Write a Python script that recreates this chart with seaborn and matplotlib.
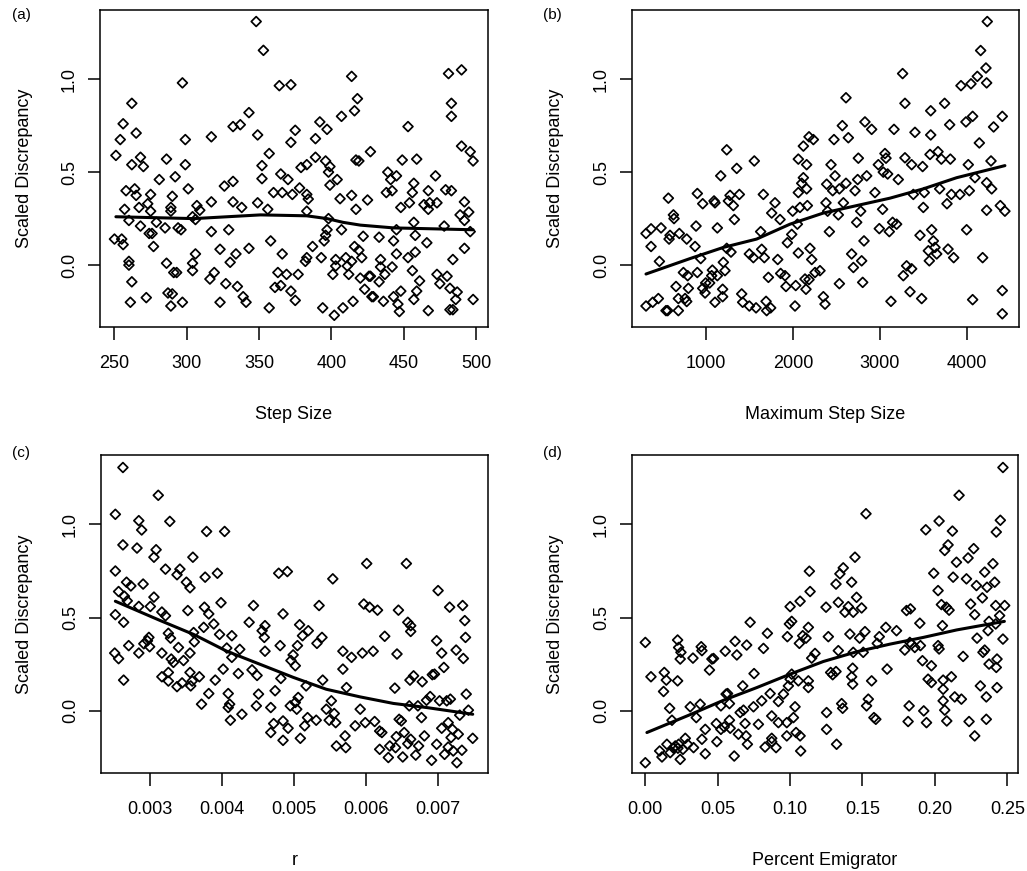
import matplotlib
matplotlib.use("Agg")
import matplotlib.pyplot as plt
import seaborn as sns
import pandas as pd

# ---------------- data ----------------
step_size = [
    251, 250, 255, 256, 254, 256, 257, 258, 260, 262,
    260, 260, 262, 261, 262, 264, 265, 265, 267, 268,
    268, 270, 272, 273, 274, 275, 275, 277, 276, 279,
    281, 286, 285, 286, 287, 290, 289, 289, 290, 289,
    291, 293, 292, 294, 296, 297, 299, 299, 297, 301,
    304, 306, 304, 304, 306, 307, 309, 317, 317, 317,
    316, 319, 323, 323, 326, 327, 329, 330, 332, 332,
    332, 334, 337, 338, 335, 339, 341, 343, 343, 348,
    349, 349, 352, 352, 353, 357, 356, 357, 358, 360,
    361, 363, 364, 365, 365, 366, 366, 369, 370, 372,
    372, 373, 375, 372, 375, 377, 378, 379, 383, 383,
    384, 383, 383, 382, 387, 389, 389, 392, 393, 394,
    397, 396, 399, 399, 398, 398, 397, 396, 395, 401,
    403, 403, 402, 404, 406, 407, 407, 408, 410, 411,
    412, 414, 414, 414, 415, 416, 418, 417, 417, 419,
    416, 419, 421, 420, 422, 423, 425, 426, 427, 428,
    429, 427, 433, 433, 434, 434, 436, 437, 438, 439,
    441, 442, 442, 443, 443, 445, 445, 446, 447, 448,
    445, 449, 448, 453, 454, 453, 456, 456, 457, 457,
    458, 458, 457, 459, 459, 461, 464, 466, 467, 467,
    468, 467, 472, 473, 473, 475, 478, 479, 480, 482,
    481, 483, 483, 483, 484, 482, 484, 486, 487, 490,
    490, 489, 492, 492, 495, 492, 496, 498, 496, 498,
]
disc_a = [
    0.59, 0.14, 0.14, 0.11, 0.675, 0.76, 0.30, 0.40, 0.24, 0.87,
    0.02, 0.00, -0.09, -0.20, 0.54, 0.41, 0.375, 0.71, 0.31, 0.58,
    0.21, 0.53, -0.175, 0.33, 0.17, 0.38, 0.29, 0.10, 0.17, 0.23,
    0.46, 0.57, 0.20, 0.01, -0.15, 0.37, 0.31, 0.29, -0.155, -0.22,
    -0.04, -0.04, 0.475, 0.20, 0.19, 0.98, 0.675, 0.54, -0.20, 0.41,
    0.26, 0.245, 0.01, -0.03, 0.06, 0.32, 0.295, 0.69, 0.34, 0.18,
    -0.075, -0.04, 0.085, -0.20, 0.425, -0.10, 0.19, 0.015, 0.745, 0.34,
    0.45, 0.06, 0.755, 0.31, -0.115, -0.17, -0.20, 0.82, 0.09, 1.31,
    0.70, 0.335, 0.535, 0.465, 1.155, 0.60, 0.30, -0.23, 0.13, 0.39,
    -0.12, -0.04, 0.965, -0.11, 0.49, 0.39, 0.06, -0.05, 0.46, 0.97,
    0.66, 0.38, 0.725, -0.14, -0.19, -0.05, 0.415, 0.525, 0.54, 0.38,
    0.355, 0.29, 0.04, 0.02, 0.10, 0.68, 0.58, 0.77, 0.04, -0.23,
    0.73, 0.56, 0.53, 0.43, 0.50, 0.25, 0.19, 0.16, 0.13, -0.05,
    -0.005, 0.03, -0.27, 0.46, 0.357, 0.80, 0.19, -0.23, 0.04, -0.005,
    -0.05, 0.02, 0.375, 1.015, -0.195, 0.83, 0.895, 0.30, 0.565, 0.56,
    0.10, 0.08, 0.04, -0.07, 0.155, -0.13, 0.35, -0.06, -0.06, -0.17,
    -0.17, 0.61, -0.09, 0.15, 0.03, -0.01, -0.195, -0.05, 0.39, 0.50,
    0.46, 0.40, -0.01, 0.13, -0.17, 0.19, 0.06, -0.21, -0.25, -0.14,
    0.48, 0.565, 0.31, 0.745, 0.335, 0.04, -0.03, 0.39, 0.44, 0.23,
    0.16, 0.07, -0.185, 0.57, -0.14, -0.085, 0.325, 0.12, -0.245, 0.40,
    0.335, 0.30, 0.48, 0.335, -0.05, -0.10, 0.21, 0.405, -0.06, -0.125,
    1.03, 0.87, 0.80, 0.40, 0.03, -0.24, -0.24, -0.185, -0.145, 1.05,
    0.64, 0.27, 0.34, 0.24, 0.285, 0.09, 0.61, 0.56, 0.18, -0.185,
]

max_step = [
    310, 310, 368, 368, 387, 464, 452, 483, 540, 559,
    567, 575, 586, 625, 632, 655, 682, 693, 682, 740,
    759, 778, 789, 797, 778, 874, 885, 900, 900, 939,
    962, 962, 989, 996, 1042, 1065, 1073, 1092, 1103, 1103,
    1130, 1130, 1169, 1191, 1191, 1199, 1218, 1238, 1238, 1257,
    1276, 1287, 1314, 1326, 1353, 1383, 1410, 1421, 1498, 1498,
    1555, 1544, 1575, 1628, 1640, 1659, 1670, 1690, 1697, 1717,
    1743, 1755, 1793, 1824, 1851, 1858, 1908, 1919, 1935, 1985,
    1996, 2023, 2031, 2050, 2061, 2080, 2061, 2061, 2100, 2119,
    2119, 2138, 2149, 2157, 2157, 2165, 2184, 2195, 2215, 2184,
    2234, 2253, 2310, 2349, 2368, 2379, 2387, 2398, 2418, 2437,
    2456, 2483, 2471, 2521, 2533, 2533, 2567, 2579, 2609, 2609,
    2636, 2674, 2694, 2713, 2732, 2743, 2751, 2778, 2789, 2801,
    2816, 2827, 2847, 2904, 2942, 2981, 2992, 3030, 3038, 3057,
    3069, 3088, 3107, 3126, 3145, 3161, 3191, 3210, 3260, 3268,
    3287, 3287, 3306, 3345, 3364, 3364, 3383, 3402, 3460, 3479,
    3490, 3498, 3509, 3556, 3567, 3575, 3583, 3583, 3594, 3613,
    3632, 3652, 3667, 3686, 3705, 3743, 3770, 3782, 3801, 3809,
    3821, 3847, 3919, 3931, 3988, 3996, 4015, 4027, 4046, 4065,
    4065, 4092, 4119, 4142, 4157, 4180, 4218, 4226, 4233, 4226,
    4226, 4276, 4284, 4306, 4383, 4406, 4406, 4406, 4436,
]
disc_b = [
    0.17, -0.22, 0.195, 0.10, -0.20, 0.02, -0.18, 0.20, -0.245, -0.245,
    0.36, 0.14, 0.16, 0.27, 0.25, -0.115, -0.18, 0.17, -0.245, -0.04,
    -0.18, 0.14, -0.057, -0.125, -0.196, 0.10, 0.21, 0.385, -0.04, 0.035,
    0.33, -0.125, -0.15, -0.096, -0.096, -0.057, -0.027, 0.345, 0.335, -0.20,
    0.20, -0.057, 0.48, -0.13, -0.17, 0.015, -0.03, 0.62, 0.09, 0.345,
    0.375, 0.07, 0.32, 0.245, 0.52, 0.38, -0.155, -0.20, 0.06, -0.22,
    0.56, 0.04, -0.23, 0.18, 0.085, 0.38, 0.04, -0.195, -0.245, -0.066,
    -0.23, 0.28, 0.335, 0.03, 0.245, -0.045, -0.057, -0.115, 0.12, 0.165,
    0.29, -0.22, -0.11, 0.22, 0.065, 0.31, 0.57, 0.39, 0.44, 0.64,
    0.47, -0.075, -0.13, 0.54, 0.41, 0.32, -0.078, 0.09, 0.03, 0.69,
    0.675, -0.04, -0.03, -0.17, -0.21, 0.335, 0.435, 0.29, 0.18, 0.54,
    0.40, 0.48, 0.675, 0.27, 0.41, -0.10, 0.75, 0.335, 0.44, 0.90,
    0.685, 0.06, -0.013, 0.40, 0.23, 0.46, 0.575, 0.29, 0.023, -0.093,
    0.13, 0.77, 0.48, 0.73, 0.39, 0.54, 0.196, 0.30, 0.50, 0.60,
    0.575, 0.49, 0.18, -0.195, 0.23, 0.73, 0.22, 0.46, 1.03, -0.057,
    0.87, 0.577, -0.004, -0.143, 0.54, -0.02, 0.38, 0.714, 0.16, -0.18,
    0.53, 0.31, 0.39, 0.077, 0.023, 0.595, 0.70, 0.83, 0.19, 0.13,
    0.095, 0.06, 0.61, 0.41, 0.57, 0.87, 0.33, 0.086, 0.755, 0.57,
    0.38, 0.04, 0.38, 0.965, 0.77, 0.19, 0.54, 0.40, 0.975, 0.80,
    -0.186, 0.47, 1.015, 0.657, 1.154, 0.04, 1.06, 0.98, 1.31, 0.443,
    0.295, 0.56, 0.41, 0.743, 0.32, 0.80, -0.137, -0.262, 0.29,
]

r_rate = [
    0.002525, 0.002525, 0.002525, 0.002516, 0.00257, 0.00257, 0.00263, 0.00263, 0.00264, 0.00264,
    0.00265, 0.00269, 0.00268, 0.00271, 0.00274, 0.002825, 0.00285, 0.00289, 0.00285, 0.00285,
    0.00291, 0.00292, 0.00297, 0.00299, 0.00300, 0.00301, 0.00306, 0.00306, 0.00309, 0.00312,
    0.00317, 0.00317, 0.00317, 0.00322, 0.00322, 0.00326, 0.00326, 0.00326, 0.00328, 0.00329,
    0.00330, 0.00333, 0.00338, 0.00340, 0.00338, 0.00342, 0.00345, 0.00347, 0.00351, 0.00353,
    0.00356, 0.00356, 0.00356, 0.00359, 0.00357, 0.00360, 0.00361, 0.00362, 0.00369, 0.00372,
    0.00375, 0.00376, 0.00377, 0.00379, 0.00382, 0.00382, 0.00389, 0.00391, 0.00394, 0.00397,
    0.00399, 0.00402, 0.00404, 0.00407, 0.00409, 0.00411, 0.00409, 0.00412, 0.00414, 0.00414,
    0.00423, 0.00425, 0.00428, 0.00438, 0.00442, 0.00444, 0.00449, 0.00451, 0.00448, 0.00456,
    0.00460, 0.00459, 0.00460, 0.00468, 0.00468, 0.00472, 0.00474, 0.00479, 0.00481, 0.00482,
    0.00485, 0.00485, 0.00485, 0.00491, 0.00492, 0.00495, 0.00496, 0.00499, 0.00502, 0.00502,
    0.00504, 0.00506, 0.00505, 0.00508, 0.00509, 0.00512, 0.00515, 0.00517, 0.00520, 0.00519,
    0.00531, 0.00532, 0.00535, 0.00539, 0.00540, 0.00545, 0.00549, 0.00552, 0.00554, 0.00556,
    0.00558, 0.00559, 0.00568, 0.00568, 0.00571, 0.00572, 0.00573, 0.00580, 0.00585, 0.00592,
    0.00595, 0.00597, 0.00599, 0.00601, 0.00605, 0.00610, 0.00612, 0.00616, 0.00619, 0.00619,
    0.00622, 0.00626, 0.00631, 0.00633, 0.00640, 0.00642, 0.00643, 0.00645, 0.00641, 0.00646,
    0.00649, 0.00651, 0.00656, 0.00653, 0.00658, 0.00660, 0.00658, 0.00661, 0.00662, 0.00662,
    0.00662, 0.00666, 0.00669, 0.00672, 0.00673, 0.00677, 0.00678, 0.00681, 0.00684, 0.00689,
    0.00691, 0.00692, 0.00695, 0.00698, 0.00698, 0.00700, 0.00702, 0.00705, 0.00705, 0.00708,
    0.00709, 0.00712, 0.00714, 0.00714, 0.00716, 0.00717, 0.00718, 0.00720, 0.00721, 0.00725,
    0.00726, 0.00728, 0.00730, 0.00733, 0.00734, 0.00735, 0.00737, 0.00738, 0.00739, 0.00742,
    0.00748,
]
disc_c = [
    1.054, 0.75, 0.516, 0.31, 0.28, 0.64, 1.305, 0.89, 0.475, 0.165,
    0.615, 0.59, 0.69, 0.35, 0.67, 0.873, 1.02, 0.97, 0.56, 0.31,
    0.68, 0.36, 0.376, 0.394, 0.344, 0.56, 0.61, 0.824, 0.864, 1.156,
    0.53, 0.31, 0.183, 0.51, 0.76, 0.416, 0.206, 0.16, 1.016, 0.39,
    0.278, 0.26, 0.13, 0.34, 0.73, 0.76, 0.15, 0.27, 0.69, 0.538,
    0.66, 0.31, 0.206, 0.16, 0.134, 0.824, 0.42, 0.37, 0.183, 0.036,
    0.448, 0.556, 0.717, 0.962, 0.093, 0.52, 0.466, 0.165, 0.738, 0.41,
    0.58, 0.224, 0.962, 0.337, 0.093, 0.036, 0.018, -0.05, 0.403, 0.287,
    0.20, 0.33, -0.018, 0.475, 0.22, 0.565, 0.19, 0.09, 0.027, 0.43,
    0.457, 0.394, 0.32, 0.018, -0.116, -0.068, 0.108, 0.738, 0.35, 0.174,
    -0.054, -0.158, 0.52, 0.747, -0.093, 0.027, 0.27, 0.30, 0.242, 0.045,
    0.009, 0.072, 0.35, 0.462, -0.147, 0.403, -0.08, 0.134, 0.43, -0.036,
    -0.05, 0.362, 0.565, 0.394, 0.165, 0.009, -0.05, 0.054, 0.708, -0.014,
    -0.063, -0.188, 0.32, 0.224, -0.134, -0.197, 0.125, 0.287, -0.08, 0.009,
    0.31, 0.573, -0.063, 0.79, 0.556, 0.32, -0.057, 0.54, -0.206, -0.108,
    -0.116, 0.40, -0.25, -0.188, 0.122, -0.138, 0.305, 0.54, -0.197, -0.045,
    -0.054, -0.247, 0.79, -0.116, 0.475, 0.027, -0.176, 0.165, 0.426, 0.457,
    -0.152, 0.188, -0.237, 0.027, -0.188, -0.036, 0.156, -0.134, 0.057, 0.077,
    -0.265, 0.194, 0.197, 0.376, -0.179, 0.645, 0.054, 0.31, -0.093, 0.233,
    -0.233, 0.054, -0.063, -0.194, 0.556, 0.063, -0.143, -0.099, -0.215, 0.326,
    -0.278, -0.125, -0.023, -0.211, 0.565, 0.281, 0.484, 0.394, 0.09, 0.004,
    -0.147,
]

pct_emig = [
    0.0, 0.0, 0.0039, 0.0099, 0.0115, 0.0126, 0.0131, 0.0145, 0.0149, 0.0168,
    0.0172, 0.0184, 0.0195, 0.0207, 0.0223, 0.023, 0.0223, 0.0225, 0.023, 0.0241,
    0.0241, 0.0246, 0.026, 0.0276, 0.0292, 0.031, 0.0329, 0.0333, 0.0352, 0.0379,
    0.0386, 0.0391, 0.0391, 0.0414, 0.0414, 0.0443, 0.046, 0.0471, 0.049, 0.0494,
    0.0522, 0.0522, 0.0545, 0.0552, 0.0558, 0.0568, 0.0581, 0.0581, 0.0586, 0.0614,
    0.062, 0.0632, 0.0643, 0.0655, 0.0673, 0.0678, 0.0689, 0.07, 0.0696, 0.0705,
    0.0724, 0.0747, 0.0751, 0.0781, 0.0816, 0.0804, 0.0827, 0.0843, 0.0862, 0.0873,
    0.0873, 0.0873, 0.0903, 0.0919, 0.0919, 0.0954, 0.0977, 0.0977, 0.0981, 0.0988,
    0.0995, 0.1, 0.1011, 0.1, 0.1011, 0.1023, 0.1034, 0.1041, 0.1057, 0.1064,
    0.1069, 0.1069, 0.1073, 0.1087, 0.111, 0.1126, 0.1126, 0.1126, 0.1133, 0.1138,
    0.1149, 0.1172, 0.1252, 0.1252, 0.1264, 0.1248, 0.128, 0.1294, 0.1317, 0.1321,
    0.1333, 0.1317, 0.1333, 0.1344, 0.1356, 0.1363, 0.1367, 0.1379, 0.1402, 0.1413,
    0.1425, 0.1425, 0.1432, 0.1432, 0.1436, 0.1448, 0.1459, 0.1436, 0.148, 0.1494,
    0.1505, 0.1517, 0.1528, 0.1524, 0.154, 0.1563, 0.1579, 0.1592, 0.1602, 0.1616,
    0.1661, 0.167, 0.1735, 0.1792, 0.1804, 0.1815, 0.1822, 0.1831, 0.1827, 0.1838,
    0.1861, 0.1896, 0.19, 0.1914, 0.1923, 0.1937, 0.1942, 0.1953, 0.1976, 0.1976,
    0.1992, 0.2022, 0.2022, 0.2029, 0.2029, 0.2045, 0.2052, 0.2057, 0.2057, 0.2057,
    0.2068, 0.2068, 0.208, 0.2091, 0.2098, 0.2082, 0.2114, 0.2126, 0.2121, 0.2137,
    0.2149, 0.2167, 0.2183, 0.2195, 0.2218, 0.2229, 0.2236, 0.2247, 0.2268, 0.2275,
    0.2275, 0.2287, 0.2291, 0.2314, 0.2328, 0.2332, 0.2344, 0.2344, 0.2355, 0.2355,
    0.236, 0.2367, 0.2374, 0.2374, 0.2401, 0.2413, 0.242, 0.242, 0.2424, 0.2429,
    0.2424, 0.2429, 0.2447, 0.2452, 0.247, 0.2482, 0.247,
]
disc_d = [
    0.367, -0.278, 0.183, -0.215, -0.247, 0.104, 0.206, 0.165, -0.179, 0.014,
    -0.224, -0.05, -0.2, -0.188, 0.38, 0.34, 0.161, -0.2, -0.179, 0.278,
    -0.26, 0.314, -0.206, -0.147, -0.179, 0.022, 0.283, -0.197, -0.036, 0.036,
    0.344, 0.323, -0.152, -0.099, -0.23, 0.219, 0.278, 0.281, -0.068, -0.165,
    0.027, -0.099, -0.086, 0.32, 0.09, 0.093, 0.039, -0.05, -0.093, -0.242,
    0.373, 0.30, -0.125, -0.009, 0.134, 0.004, -0.068, 0.353, -0.134, -0.179,
    0.475, 0.022, 0.20, -0.072, 0.335, 0.054, -0.194, 0.416, 0.093, -0.147,
    -0.165, -0.027, -0.197, -0.063, 0.05, 0.09, -0.063, -0.134, 0.398, 0.134,
    0.466, 0.17, 0.48, 0.559, 0.197, -0.036, 0.022, -0.116, 0.161, 0.362,
    -0.134, 0.588, -0.215, 0.403, 0.39, 0.161, 0.125, 0.448, 0.749, 0.64,
    0.283, 0.308, -0.009, -0.099, 0.398, 0.556, 0.206, 0.194, 0.68, -0.179,
    0.582, 0.211, 0.323, 0.735, 0.039, 0.014, 0.767, 0.529, 0.559, 0.412,
    0.69, 0.183, 0.229, 0.143, 0.529, 0.824, 0.609, 0.314, 0.39, 0.552,
    0.314, 0.425, 0.027, 1.057, 0.063, 0.161, -0.036, -0.045, 0.362, 0.398,
    0.448, 0.224, 0.43, 0.326, 0.538, -0.057, 0.027, 0.547, 0.367, 0.358,
    0.34, 0.47, 0.35, 0.269, 0.0, 0.971, -0.063, 0.17, 0.242, 0.152,
    0.738, 0.645, 0.35, 0.332, 1.018, 0.57, 0.457, 0.165, 0.116, 0.054,
    0.004, 0.86, 0.556, 0.89, 0.54, -0.054, 0.183, 0.717, 0.964, 0.075,
    0.797, 1.156, 0.063, 0.292, 0.708, 0.82, -0.057, 0.573, 0.87, -0.134,
    0.516, 0.672, 0.39, 0.134, 0.606, 0.314, 0.326, 0.744, 0.075, -0.045,
    0.663, 0.43, 0.251, 0.48, 0.789, 0.69, 0.565, 0.466, 0.959, 0.278,
    0.233, 0.125, 0.511, 1.022, 0.385, 0.565, 1.305,
]

# smoothed trend lines
smooth_a_x = [251, 305, 351, 383, 397, 408, 420, 443, 498]
smooth_a_y = [0.26, 0.25, 0.27, 0.265, 0.25, 0.23, 0.215, 0.20, 0.19]
smooth_b_x = [310, 816, 1199, 1582, 1965, 2349, 2732, 3115, 3498, 3881, 4436]
smooth_b_y = [-0.048, 0.035, 0.095, 0.14, 0.22, 0.28, 0.32, 0.36, 0.41, 0.47, 0.535]
smooth_c_x = [0.002525, 0.00315, 0.00361, 0.00407, 0.00453, 0.00499,
              0.00545, 0.00592, 0.00638, 0.00684, 0.00748]
smooth_c_y = [0.588, 0.484, 0.41, 0.32, 0.25, 0.18, 0.116, 0.075, 0.04, 0.018, -0.018]
smooth_d_x = [0.0011, 0.031, 0.054, 0.077, 0.10, 0.123, 0.146, 0.169, 0.192, 0.215, 0.248]
smooth_d_y = [-0.116, -0.02, 0.057, 0.125, 0.197, 0.265, 0.317, 0.358, 0.394, 0.434, 0.48]

panel_tags = ["(a)", "(b)", "(c)", "(d)"]
x_titles = ["Step Size", "Maximum Step Size", "r", "Percent Emigrator"]
y_title = "Scaled Discrepancy"
y_ticks = [0.0, 0.5, 1.0]
y_ticklabels = ["0.0", "0.5", "1.0"]
x_ticks = [
    [250, 300, 350, 400, 450, 500],
    [1000, 2000, 3000, 4000],
    [0.003, 0.004, 0.005, 0.006, 0.007],
    [0.00, 0.05, 0.10, 0.15, 0.20, 0.25],
]
x_ticklabels = [
    ["250", "300", "350", "400", "450", "500"],
    ["1000", "2000", "3000", "4000"],
    ["0.003", "0.004", "0.005", "0.006", "0.007"],
    ["0.00", "0.05", "0.10", "0.15", "0.20", "0.25"],
]
x_limits = [(240.0, 508.3), (149, 4598), (0.002326, 0.007692), (-0.0092, 0.2574)]
y_limits = (-0.333, 1.372)

# ---------------- style ----------------
sns.set_theme(style="ticks")
plt.rcParams["font.family"] = ["Liberation Sans", "DejaVu Sans"]
for key in ["text.color", "axes.labelcolor", "xtick.color", "ytick.color",
            "xtick.labelcolor", "ytick.labelcolor", "axes.edgecolor"]:
    plt.rcParams[key] = "black"
plt.rcParams["axes.linewidth"] = 1.1

W, H = 1027, 871
fig = plt.figure(figsize=(W / 100, H / 100), dpi=100)
fig.patch.set_facecolor("white")

# axes boxes in pixel coordinates (left, top, right, bottom)
boxes = [(100, 10, 488, 327), (632, 10, 1019, 327),
         (101, 455, 488, 773), (632, 455, 1018, 773)]
tag_pos = [(12, 8), (543, 8), (12, 446), (543, 446)]
ylabel_px = [33, 564, 33, 564]

scatter_sets = [
    (step_size, disc_a, smooth_a_x, smooth_a_y),
    (max_step, disc_b, smooth_b_x, smooth_b_y),
    (r_rate, disc_c, smooth_c_x, smooth_c_y),
    (pct_emig, disc_d, smooth_d_x, smooth_d_y),
]

FS = 13
for i, (xs, ys, lx, ly) in enumerate(scatter_sets):
    l, t, r, b = boxes[i]
    ax = fig.add_axes([l / W, 1 - b / H, (r - l) / W, (b - t) / H])
    pts = pd.DataFrame({"x": xs, "y": ys})
    trend = pd.DataFrame({"x": lx, "y": ly})
    sns.scatterplot(data=pts, x="x", y="y", ax=ax, marker="D", s=25,
                    facecolor="none", edgecolor="black", linewidth=1.25,
                    legend=False)
    sns.lineplot(data=trend, x="x", y="y", ax=ax, color="black",
                 linewidth=2.2, estimator=None, sort=True)
    ax.set_xlim(*x_limits[i])
    ax.set_ylim(*y_limits)
    ax.set_xticks(x_ticks[i])
    ax.set_xticklabels(x_ticklabels[i], fontsize=FS, color="black")
    ax.set_yticks(y_ticks)
    ax.set_yticklabels(y_ticklabels, fontsize=FS, rotation=90, va="center",
                       color="black")
    ax.tick_params(axis="both", direction="out", length=9, width=1.1,
                   color="black", labelcolor="black")
    ax.tick_params(axis="x", pad=11)
    ax.tick_params(axis="y", pad=7)
    for sp in ax.spines.values():
        sp.set_visible(True)
        sp.set_color("black")
        sp.set_linewidth(1.1)
    ax.set_xlabel(x_titles[i], fontsize=FS, color="black")
    ax.set_ylabel(y_title, fontsize=FS, color="black")
    ax.xaxis.label.set_va("baseline")
    ax.xaxis.set_label_coords(0.5, -92 / (b - t))
    ax.yaxis.set_label_coords((ylabel_px[i] - l) / (r - l), 0.5)
    ax.set_facecolor("white")
    tx, ty = tag_pos[i]
    fig.text(tx / W, 1 - ty / H, panel_tags[i], fontsize=11, va="top",
             ha="left", color="black")

fig.savefig("out.png", dpi=100, facecolor="white")
